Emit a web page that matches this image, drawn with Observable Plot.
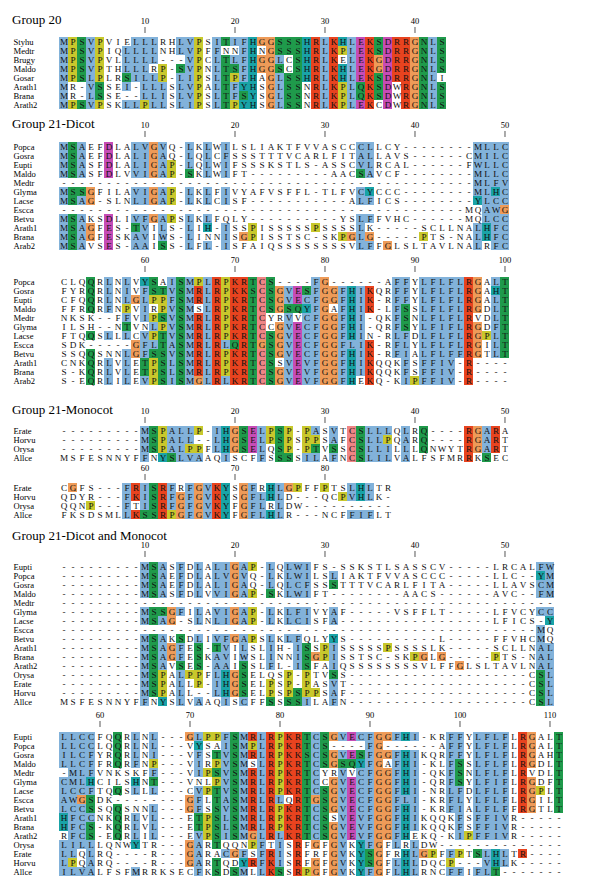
<!DOCTYPE html>
<html><head><meta charset="utf-8">
<script src="https://cdn.jsdelivr.net/npm/d3@7"></script>
<script src="https://cdn.jsdelivr.net/npm/@observablehq/plot@0.6"></script>
<style>
body{margin:0;background:#fff;}
#fig{position:relative;width:600px;height:895px;overflow:hidden;font-family:"Liberation Serif","Times New Roman",serif;}
.title{position:absolute;left:12px;font-size:13px;line-height:15px;color:#000;white-space:nowrap;}
</style></head><body><div id="fig"></div>
<script>
// ---------------- data ----------------
const groupTitles = ["Group 20", "Group 21-Dicot", "Group 21-Monocot", "Group 21-Dicot and Monocot"];

const g20Names = ["Styhu","Medtr","Brugy","Maldo","Gosar","Arath1","Brana","Arath2"];
const g20Seqs = [
  "MPSVPVIELLLRHLVPSITIFHGGSSSHRLKHLEKSDRRGNLS",
  "MPSVPIQLLLLNHLVPFFNNFHNGSSSHRLKPLEKSDRRGNLS",
  "MPSVPVLLLLL---VPCLTLFHGGLCSHRLKELEKGDRRGNLS",
  "MPSVPTHLLLRP-SVPNLTSFHGGSCSHRLKHLEKGDRRGNLS",
  "MPSLPLRSILLP-LIPSLTPFHAGLSSHRLKHLEKSDRRGNLI",
  "MR-VSSEI-LLLSLVPALTFYHSGLSSNRLKPLQKSDWRGNLS",
  "MR-LSSE--LLISLVPSLTFSYSGLSSNRLKPLQKSDWRGNLS",
  "MPSVPSKLLPLLSLIPSLTPYHSGLSSNRLKPLEKCDWRGNLS"
];
const g20Ticks = [10,20,30,40];

const dicotNames = ["Popca","Gosra","Eupti","Maldo","Medtr","Glyma","Lacse","Escca","Betvu","Arath1","Brana","Arab2"];
const dicotSeqs = [
  "MSAEFDLALVGVQ-LKLWILSLIAKTFVVASCCCLLCY--------MLLC" + "CLQQRLNLVYSAISMPLRPKRTCS----FG------AFFYLFLFLRGALT",
  "MSAEFDLALIGAQ-LQLCFSSSTTTVCARLFITALLAVS------CMILC" + "FYRQRLNIVFSTVSMRLRPKKSCSGVESFGGFHIKQRFFYLFLFLRGAHT",
  "MSASFDLALIGAP-LQLWIFSSSKSTLS-ASSCVLRCAL------FWLLC" + "CFQQRLNLGLPPFSMRLRPKRTCSGVECFGGFHIK-RFFYLFLFLRGALT",
  "MSASFDLVVIGAP-SKLWIFT---------AACSAVCF--------MLLC" + "FFRQRFNPVIRPVSMSLRPKRTCSGSQYFGAFHIK-LFSSLFLFLRGDLT",
  "----------"+"----------"+"----------"+"----------"+"------MLFV" + "NKSK--FFVIPSVSMRLRPKRTCYRVVCFGGFHI-QKFSNLFLFLRVDLT",
  "MSSGFILAVIGAP-LKLFIVYAFVSFFL-TLFVCYCCC--------MLHC" + "ILSH--NTVNLPVSMRLRPKRTCCGVECFGGFHI-QRFSYLFIFLRGDFT",
  "MSAG-SLNLIGAP-LKLCISF-----------ALFICS--------YLCC" + "FTQQSLLLCVPTVSMRLRPKRTCSGVECFGGFHIN-RLFDLFLFLRGPLT",
  "----------"+"----------"+"----------"+"----------"+"-----MQAWG" + "SDK-----GFLTASMRLRLQRTGSGVECFGGFLIK-RFLYLFLFLRGILT",
  "MSAKSDLIVFGAPSLKLFQLY----------YSLFFVHC------MQLCC" + "SSQQSNNLGFSSVSMRLRPKRTCSGVECFGGFHIK-RFIALFLFFRGTLT",
  "MSAGFES-TVILS-LIH-ISSPISSSSSPSSSSLK-----SCLLNALHFC" + "CNKQRLVLETPSLSMRLRPKRTCSSVEVFGGFHIKQQKFSFFIV-R----",
  "MSAGFESKAVIWS-LINNISGPISSTSC-SKPGLG-----PTS-NALHFC" + "S-KQRLVLETPSLSMRLRPKRTCSGVEVFGGFHIKQQKFSFFIV-R----",
  "MSAVSES-AAISS-LFL-ISFAIQSSSSSSSSVLFFGLSLTAVLNALRFC" + "S-EQRLILEVPSISMGLRLKRTCSGVEVFGGFHEKQ-KIPFFIV-R----"
];
const dicotTicks = [10,20,30,40,50,60,70,80,90,100];

const monoNames = ["Erate","Horvu","Orysa","Allce"];
const monoSeqs = [
  "---------MSPALLP-IHGSELPSP-PASVTCSLLLQLRQ----RGARA" + "CGFS---FRISRFRFGVKYSGFRHLGPFFPTSLHLTR",
  "---------MSPALL--LHGSELPSPSPPSAFCSLLPQARQ----RGART" + "QDYR---FKISRFGFGVKYSGFLHLD---QCPVHLK-",
  "---------MSPALPPFLHGSELQSP-PTVSSCSLLILLLQNWYTRGART" + "QQNP---FTISRFGFGVKYFGFLRLDW----------",
  "MSFESNNYFFNYSLVAAQISCFFSSSSILAFNCSLILVALFSFMRRKSEC" + "FKSDSMLLKSSRPGFGVKYFGFLHLR---NCFFIFLT"
];
const monoTicks = [10,20,30,40,50,60,70,80];

const dmNames = ["Eupti","Popca","Gosra","Maldo","Medtr","Glyma","Lacse","Escca","Betvu","Arath1","Brana","Arath2","Orysa","Erate","Horvu","Allce"];
const dmSeqs = [
  "---------MSASFDLALIGAP-LQLWIFS-SSKSTLSASSCV-----LRCALFW" + "LLCCFQQRLNL---GLPPFSMRLRPKRTCSGVECFGGFHI-KRFFYLFLFLRGALT",
  "---------MSAEFDLALVGVQ-LKLWILSLIAKTFVVASCCC-----LLC--YM" + "LLCCLQQRLNL---VYSAISMPLRPKRTCS----FG------AFFYLFLFLRGALT",
  "---------MSAEFDLALIGAQ-LQLCFSSSTTTVCARLFITA-----LLAVSCM" + "ILCFYRQRLNI---VFSTVSMRLRPKKSCSGVESFGGFHIKQRFFYLFLFLRGAHT",
  "---------MSASFDLVVIGAP-SKLWIFT--------AACS------AVC--FM" + "LLCFFRQRFNP---VIRPVSMSLRPKRTCSGSQYFGAFHI-KLFSSLFLFLRGDLT",
  "----------"+"----------"+"----------"+"----------"+"----------"+"-----" + "-MLFVNKSKFF---VIPSVSMRLRPKRTCYRVVCFGGFHI-QKFSNLFLFLRVDLT",
  "---------MSSGFILAVIGAP-LKLFIVYAF-----VSFFLT-----LFVCYCC" + "CMLHCILSHNT---VNLPVSMRLRPKRTCCGVECFGGFHI-QRFSYLFIFLRGDFT",
  "---------MSAG-SLNLIGAP-LKLCISFA"+"----------"+"-------"+"LFICS-Y" + "LCCFTQQSLLL---CVPTVSMRLRPKRTCSGVECFGGFHI-NRLFDLFLFLRGPLT",
  "----------"+"----------"+"----------"+"----------"+"----------"+"---MQ" + "AWGSDK--------GFLTASMRLRLQRTGSGVECFGGFLI-KRFLYLFLFLRGILT",
  "---------MSAKSDLIVFGAPSLKLFQLYYS----------L-----FFVHCMQ" + "LCCSSQQSNNL---GFSSVSMRLRPKRTCSGVECFGGFHI-KRFIALFLFFRGTLT",
  "---------MSAGFES-TVILSLIH-ISSPISSSSSPSSSSLK-----SCLLNAL" + "HFCCNKQRLVL---ETPSLSMRLRPKRTCSSVEVFGGFHIKQQKFSFFIVR-----",
  "---------MSAGFESKAVIWSLINNISGPISSTSC-SKPGLG-----PTS-NAL" + "HFCS-KQRLVL---ETPSLSMRLRPKRTCSGVEVFGGFHIKQQKFSFFIVR-----",
  "---------MSAVSES-AAISSLFL-ISFAIQSSSSSSSSVLFFGLSLTAVLNAL" + "RFCS-EQRLIL---EVPSISMGLRLKRTCSGVEVFGGFHEKQ-KIPFFIVR-----",
  "---------MSPALPPFLHGSELQSP-PTVSS"+"----------"+"----------"+"CSL" + "LILLLQNWYTR---GARTQQNPFTISRFGFGVKYFGFLRLDW"+"----------"+"----",
  "---------MSPALLP-IHGSELPSP-PASVT"+"----------"+"----------"+"CSL" + "LLQLRQ----R---GARACGFSFRISRFRFGVKYSGFRHLGPFFPTSLHLTR----",
  "---------MSPALL--LHGSELPSPSPPSAF"+"----------"+"----------"+"CSL" + "LPQARQ----R---GARTQDYRFKISRFGFGVKYSGFLHLDQCP---VHLK-----",
  "MSFESNNYFFNYSLVAAQISCFFSSSSILAFN"+"----------"+"----------"+"CSL" + "ILVALFSFMRRKSECFKSDSMLLKSSRPGFGVKYFGFLHLRNCFFIFLT-------"
];
const dmTicks = [10,20,30,40,50,60,70,80,90,100,110];

// ---------------- colour classes (ClustalX rules) ----------------
const classes = ["hydrophobic","positive","negative","polar","cysteine","glycine","proline","aromatic"];
const classColors = ["#82b2da","#e8431f","#c64cb6","#1f9a4b","#ef8585","#ee9b58","#c8c82c","#19a3a7"];

function clustalx(seqs){
  const n = seqs.length, L = Math.max(...seqs.map(s=>s.length));
  const out = seqs.map(()=>new Array(L).fill(null));
  for(let j=0;j<L;j++){
    const cnt = {};
    for(const s of seqs){const c=s[j]; if(c && c!=="-") cnt[c]=(cnt[c]||0)+1;}
    const pct = set => [...set].reduce((a,c)=>a+(cnt[c]||0),0)/n*100;
    const big = c => (cnt[c]||0)/n*100 > 85;
    const hyd = pct("WLVIMAFCYHP") > 60;
    const ED = pct("ED") > 50, KR = pct("KR") > 60, N50 = pct("N") > 50, QE = pct("QE") > 50, TS = pct("TS") > 50;
    seqs.forEach((s,i)=>{
      const r = s[j]; let k = null;
      switch(r){
        case "G": k="glycine"; break;
        case "P": k="proline"; break;
        case "A": case "I": case "L": case "M": case "F": case "W": case "V": if(hyd) k="hydrophobic"; break;
        case "C": if(big("C")) k="cysteine"; else if(hyd) k="hydrophobic"; break;
        case "K": case "R": if(KR||big("K")||big("R")||big("Q")) k="positive"; break;
        case "E": if(ED||QE||big("D")||big("E")||big("Q")) k="negative"; break;
        case "D": if(ED||N50||big("D")||big("E")||big("N")) k="negative"; break;
        case "N": if(N50||big("N")||big("D")) k="polar"; break;
        case "Q": if(QE||big("Q")||big("E")||big("K")||big("R")) k="polar"; break;
        case "S": case "T": if(TS||hyd||big("S")||big("T")) k="polar"; break;
        case "H": case "Y": if(hyd) k="aromatic"; break;
      }
      out[i][j]=k;
    });
  }
  return out;
}

const sections = [
  {names: g20Names, seqs: g20Seqs, ticks: g20Ticks},
  {names: dicotNames, seqs: dicotSeqs, ticks: dicotTicks},
  {names: monoNames, seqs: monoSeqs, ticks: monoTicks},
  {names: dmNames, seqs: dmSeqs, ticks: dmTicks}
];
sections.forEach(s=>{ s.cls = clustalx(s.seqs); });

// ---------------- layout ----------------
const P = 9.42, X0 = 47.8, CW = 9.4, NMAX = 56, YTOP = 27;
const blocks = [
  {sec:0, start:1,  end:43,  row0:39.3},
  {sec:1, start:1,  end:50,  row0:143.7},
  {sec:1, start:51, end:100, row0:278.7},
  {sec:2, start:1,  end:50,  row0:430},
  {sec:2, start:51, end:87,  row0:486.7},
  {sec:3, start:1,  end:55,  row0:563.3},
  {sec:3, start:56, end:111, row0:733.3}
];
const titleTops = [11.7, 116.4, 402.2, 527.5];

const fig = document.getElementById("fig");
groupTitles.forEach((t,i)=>{
  const d = document.createElement("div");
  d.className = "title"; d.textContent = t; d.style.top = titleTops[i]+"px";
  fig.appendChild(d);
});

blocks.forEach(b=>{
  const s = sections[b.sec];
  const n = s.names.length;
  const H = YTOP + n*P + 3;
  const cells = [];
  s.names.forEach((name,i)=>{
    for(let c=b.start;c<=b.end;c++){
      cells.push({name, col:c-b.start+1, res:s.seqs[i][c-1] || "-", cls:s.cls[i][c-1]});
    }
  });
  const ticks = s.ticks.filter(t=>t>=b.start && t<=b.end).map(t=>t-b.start+1);
  const svg = Plot.plot({
    width: 600, height: H,
    marginTop: 24, marginLeft: X0, marginRight: 600 - (X0 + NMAX*CW), marginBottom: 2,
    x: {type:"band", domain: d3.range(1, NMAX+1), range:[X0, X0 + NMAX*CW], padding:0, label:null},
    y: {type:"band", domain: s.names, range:[YTOP, YTOP + n*P], padding:0, label:null},
    color: {domain: classes, range: classColors},
    style: {fontFamily:"'Liberation Serif','Times New Roman',serif", fontSize:"9px", background:"transparent", overflow:"visible"},
    marks: [
      Plot.cell(cells.filter(d=>d.cls), {x:"col", y:"name", fill:"cls", shapeRendering:"crispEdges"}),
      Plot.text(cells, {x:"col", y:"name", text:"res", fontSize:9.2, fill:"#111"}),
      Plot.axisX({anchor:"top", ticks, tickFormat: d => String(d + b.start - 1), tickSize:6, tickPadding:2, fontSize:8.5, stroke:"#555", label:null}),
      Plot.axisY({anchor:"left", tickSize:0, tickPadding: X0 - 13, textAnchor:"start", fontSize:8.6, label:null})
    ]
  });
  svg.style.position = "absolute";
  svg.style.left = "0px";
  svg.style.top = (b.row0 - P/2 - YTOP) + "px";
  fig.appendChild(svg);
});
</script></body></html>
